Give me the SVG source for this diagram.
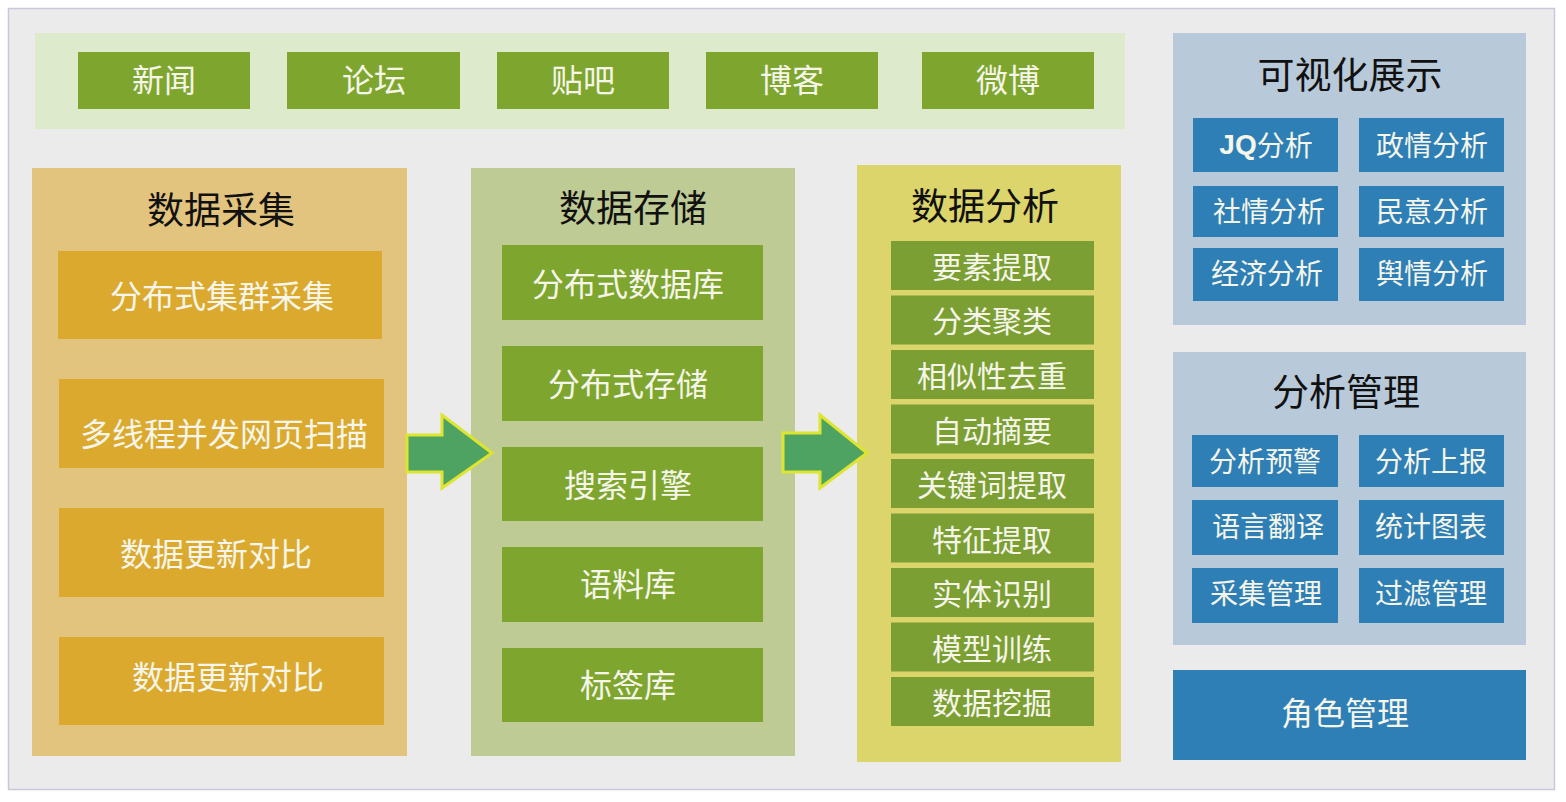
<svg xmlns="http://www.w3.org/2000/svg" width="1566" height="802" viewBox="0 0 1566 802">
<style>
text{font-family:"Noto Sans CJK SC","Noto Sans",sans-serif;text-anchor:middle;dominant-baseline:central;transform:translateY(-2px)}
.w{fill:#f5f5ea}
.t{fill:#111;font-size:37px}
.g{fill:#7ea62e}
.ga{fill:#7b9f32}
.o{fill:#dba92d}
.b{fill:#2e7fb5}
.f32{font-size:32px}
.f30{font-size:30px}
.f28{font-size:28px}
.arrow{fill:#4ea363;stroke:#dde530;stroke-width:3;stroke-linejoin:miter}
</style>
<rect x="0" y="0" width="1566" height="802" fill="#ffffff"/>
<rect x="8.5" y="8.5" width="1546" height="781" fill="#ebebeb" stroke="#c8c8dc" stroke-width="1.5"/>
<g id="sources">
<rect x="35" y="33" width="1090" height="96" fill="#deeacc"/>
<g id="n-xinwen"><rect class="g" x="78" y="52" width="172" height="57"/><text class="w f32" x="164" y="80">新闻</text></g>
<g id="n-luntan"><rect class="g" x="287" y="52" width="173" height="57"/><text class="w f32" x="374" y="80">论坛</text></g>
<g id="n-tieba"><rect class="g" x="497" y="52" width="172" height="57"/><text class="w f32" x="583" y="80">贴吧</text></g>
<g id="n-boke"><rect class="g" x="706" y="52" width="172" height="57"/><text class="w f32" x="792" y="80">博客</text></g>
<g id="n-weibo"><rect class="g" x="922" y="52" width="172" height="57"/><text class="w f32" x="1008" y="80">微博</text></g>
</g>
<g id="collect">
<rect x="32" y="168" width="375" height="588" fill="#e3c47f"/>
<text class="t" x="221" y="210">数据采集</text>
<g id="c1"><rect class="o" x="58" y="251" width="324" height="88"/><text class="w f32" x="222" y="296">分布式集群采集</text></g>
<g id="c2"><rect class="o" x="59" y="379" width="325" height="89"/><text class="w f32" x="224" y="434">多线程并发网页扫描</text></g>
<g id="c3"><rect class="o" x="59" y="508" width="325" height="89"/><text class="w f32" x="216" y="554">数据更新对比</text></g>
<g id="c4"><rect class="o" x="59" y="637" width="325" height="88"/><text class="w f32" x="228" y="677">数据更新对比</text></g>
</g>
<g id="storage">
<rect x="471" y="168" width="324" height="588" fill="#bfcb95"/>
<text class="t" x="633" y="208">数据存储</text>
<g id="s1"><rect class="g" x="502" y="245" width="261" height="75"/><text class="w f32" x="628" y="284">分布式数据库</text></g>
<g id="s2"><rect class="g" x="502" y="346" width="261" height="75"/><text class="w f32" x="628" y="384">分布式存储</text></g>
<g id="s3"><rect class="g" x="502" y="447" width="261" height="74"/><text class="w f32" x="628" y="485">搜索引擎</text></g>
<g id="s4"><rect class="g" x="502" y="547" width="261" height="75"/><text class="w f32" x="628" y="584">语料库</text></g>
<g id="s5"><rect class="g" x="502" y="648" width="261" height="74"/><text class="w f32" x="628" y="685">标签库</text></g>
</g>
<g id="analysis">
<rect x="857" y="165" width="264" height="597" fill="#dcd56c"/>
<text class="t" x="985" y="206">数据分析</text>
<g id="a1"><rect class="ga" x="891" y="241" width="203" height="49"/><text class="w f30" x="992" y="267">要素提取</text></g>
<g id="a2"><rect class="ga" x="891" y="295.5" width="203" height="49"/><text class="w f30" x="992" y="321">分类聚类</text></g>
<g id="a3"><rect class="ga" x="891" y="350" width="203" height="49"/><text class="w f30" x="992" y="376">相似性去重</text></g>
<g id="a4"><rect class="ga" x="891" y="404.5" width="203" height="49"/><text class="w f30" x="992" y="431">自动摘要</text></g>
<g id="a5"><rect class="ga" x="891" y="459" width="203" height="49"/><text class="w f30" x="992" y="485">关键词提取</text></g>
<g id="a6"><rect class="ga" x="891" y="513.5" width="203" height="49"/><text class="w f30" x="992" y="540">特征提取</text></g>
<g id="a7"><rect class="ga" x="891" y="568" width="203" height="49"/><text class="w f30" x="992" y="594">实体识别</text></g>
<g id="a8"><rect class="ga" x="891" y="622.5" width="203" height="49"/><text class="w f30" x="992" y="649">模型训练</text></g>
<g id="a9"><rect class="ga" x="891" y="677" width="203" height="49"/><text class="w f30" x="992" y="703">数据挖掘</text></g>
</g>
<g id="visual">
<rect x="1173" y="33" width="353" height="292" fill="#b8c9d9"/>
<text class="t" x="1350" y="75">可视化展示</text>
<g id="v1"><rect class="b" x="1193" y="118" width="145" height="54"/><text class="w f28" x="1266" y="146"><tspan font-weight="bold" font-family="'Liberation Sans',Arial,sans-serif">JQ</tspan>分析</text></g>
<g id="v2"><rect class="b" x="1359" y="118" width="145" height="54"/><text class="w f28" x="1432" y="146">政情分析</text></g>
<g id="v3"><rect class="b" x="1193" y="186" width="145" height="51"/><text class="w f28" x="1269" y="212">社情分析</text></g>
<g id="v4"><rect class="b" x="1359" y="186" width="145" height="51"/><text class="w f28" x="1432" y="212">民意分析</text></g>
<g id="v5"><rect class="b" x="1193" y="248" width="145" height="53"/><text class="w f28" x="1267" y="274">经济分析</text></g>
<g id="v6"><rect class="b" x="1359" y="248" width="145" height="53"/><text class="w f28" x="1432" y="274">舆情分析</text></g>
</g>
<g id="manage">
<rect x="1173" y="352" width="353" height="293" fill="#b8c9d9"/>
<text class="t" x="1346" y="392">分析管理</text>
<g id="m1"><rect class="b" x="1192" y="435" width="146" height="52"/><text class="w f28" x="1265" y="462">分析预警</text></g>
<g id="m2"><rect class="b" x="1359" y="435" width="145" height="52"/><text class="w f28" x="1431" y="462">分析上报</text></g>
<g id="m3"><rect class="b" x="1192" y="500" width="146" height="55"/><text class="w f28" x="1268" y="527">语言翻译</text></g>
<g id="m4"><rect class="b" x="1359" y="500" width="145" height="55"/><text class="w f28" x="1431" y="527">统计图表</text></g>
<g id="m5"><rect class="b" x="1192" y="568" width="146" height="55"/><text class="w f28" x="1266" y="594">采集管理</text></g>
<g id="m6"><rect class="b" x="1359" y="568" width="145" height="55"/><text class="w f28" x="1431" y="594">过滤管理</text></g>
</g>
<g id="role"><rect class="b" x="1173" y="670" width="353" height="90"/><text class="w f32" x="1345" y="713">角色管理</text></g>
<g id="connectors">
<path class="arrow" d="M407,435 L442,435 L442,415 L492,453 L442,488 L442,472 L407,472 Z"/>
<path class="arrow" d="M783,433 L820,433 L820,415 L867,453 L820,488 L820,472 L783,472 Z"/>
</g>
</svg>
